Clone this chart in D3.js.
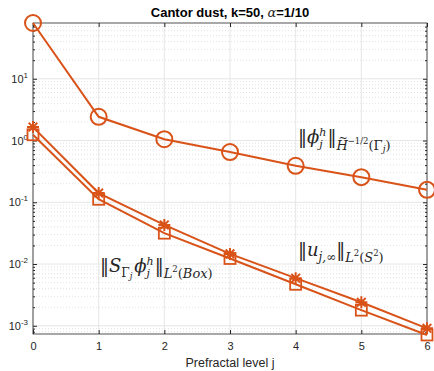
<!DOCTYPE html>
<html>
<head>
<meta charset="utf-8">
<script src="https://cdn.jsdelivr.net/npm/d3@7"></script>
<style>
  body { margin: 0; background: #fff; }
  svg { display: block; }
  text { font-family: "Liberation Sans", Arial, sans-serif; fill: #262626; }
  .math { font-family: "DejaVu Serif", "Liberation Serif", serif; fill: #262626; }
</style>
</head>
<body>
<svg width="434" height="371"></svg>
<script>
// prefractal levels
var levels = [0, 1, 2, 3, 4, 5, 6];
// ||phi_j^h|| in H^{-1/2}
var phiNorm = [80, 2.42, 1.05, 0.65, 0.39, 0.255, 0.159];
// ||u_{j,inf}|| in L2(S2)
var farField = [1.65, 0.141, 0.043, 0.0146, 0.0059, 0.0024, 0.00091];
// ||S phi|| in L2(Box)
var boxNorm = [1.24, 0.112, 0.0316, 0.0123, 0.0047, 0.00179, 0.00071];
var yTicks = [1e-3, 1e-2, 1e-1, 1e0, 1e1];
var yTickExp = ["-3", "-2", "-1", "0", "1"];

var svg = d3.select("svg"),
    margin = {top: 23, right: 7, bottom: 37, left: 33},
    width = 434 - margin.left - margin.right,
    height = 371 - margin.top - margin.bottom;

var col = "#D95319";

var x = d3.scaleLinear().domain([0, 6]).range([margin.left, margin.left + width]);
var y = d3.scaleLog().domain([7.36e-4, 80]).range([margin.top + height, margin.top]);

var g = svg.append("g");

// minor grid (dotted)
var minors = [];
for (var k = -4; k <= 1; k++) {
  for (var m = 2; m <= 9; m++) {
    var v = m * Math.pow(10, k);
    if (v > y.domain()[0] && v < y.domain()[1]) minors.push(v);
  }
}
g.selectAll(".minor").data(minors).enter().append("line")
  .attr("x1", x(0)).attr("x2", x(6))
  .attr("y1", function(d) { return y(d); }).attr("y2", function(d) { return y(d); })
  .style("stroke", "#e3e3e3").style("stroke-width", 1).style("stroke-dasharray", "1,2");

// major grid
g.selectAll(".gx").data(levels).enter().append("line")
  .attr("x1", function(d) { return x(d); }).attr("x2", function(d) { return x(d); })
  .attr("y1", y.range()[1]).attr("y2", y.range()[0])
  .style("stroke", "#e6e6e6").style("stroke-width", 1);
g.selectAll(".gy").data(yTicks).enter().append("line")
  .attr("x1", x(0)).attr("x2", x(6))
  .attr("y1", function(d) { return y(d); }).attr("y2", function(d) { return y(d); })
  .style("stroke", "#e6e6e6").style("stroke-width", 1);

// axes box
var axCol = "#262626";
var xAxis = d3.axisBottom(x).tickValues(levels).tickSize(-4).tickPadding(8).tickFormat(d3.format("d"));
var xa = svg.append("g").attr("transform", "translate(0," + y.range()[0] + ")").call(xAxis);
var xt = svg.append("g").attr("transform", "translate(0," + y.range()[1] + ")")
  .call(d3.axisTop(x).tickValues(levels).tickSize(-4).tickFormat(""));
var ya = svg.append("g").attr("transform", "translate(" + x(0) + ",0)")
  .call(d3.axisLeft(y).tickValues(yTicks).tickSize(-4).tickFormat(""));
var yr = svg.append("g").attr("transform", "translate(" + x(6) + ",0)")
  .call(d3.axisRight(y).tickValues(yTicks).tickSize(-4).tickFormat(""));
var yam = svg.append("g").attr("transform", "translate(" + x(0) + ",0)")
  .call(d3.axisLeft(y).tickValues(minors).tickSize(-2).tickFormat(""));
var yrm = svg.append("g").attr("transform", "translate(" + x(6) + ",0)")
  .call(d3.axisRight(y).tickValues(minors).tickSize(-2).tickFormat(""));
svg.selectAll(".domain").style("stroke", axCol).attr("d", null);
svg.selectAll(".tick line").style("stroke", axCol);
xa.selectAll("text").style("font-size", "11px").style("fill", axCol)
  .attr("font-family", "Liberation Sans, Arial, sans-serif");

svg.append("rect")
  .attr("x", x(0)).attr("y", y.range()[1])
  .attr("width", width).attr("height", height)
  .style("fill", "none").style("stroke", axCol).style("stroke-width", 0.8);

// y tick labels 10^k
var ylab = svg.selectAll(".ylab").data(yTicks).enter().append("text")
  .attr("x", x(0) - 5)
  .attr("y", function(d) { return y(d) + 4; })
  .attr("text-anchor", "end")
  .style("font-size", "11px");
ylab.append("tspan").text("10");
ylab.append("tspan").attr("dy", -5).style("font-size", "8px")
  .text(function(d, i) { return yTickExp[i]; });

// lines + markers
var line = d3.line().x(function(d, i) { return x(levels[i]); }).y(function(d) { return y(d); });

[phiNorm, farField, boxNorm].forEach(function(s) {
  svg.append("path").attr("d", line(s))
    .style("fill", "none").style("stroke", col).style("stroke-width", 2);
});

svg.selectAll(".circ").data(phiNorm).enter().append("circle")
  .attr("cx", function(d, i) { return x(levels[i]); })
  .attr("cy", function(d) { return y(d); })
  .attr("r", 8)
  .style("fill", "none").style("stroke", col).style("stroke-width", 2);

svg.selectAll(".sq").data(boxNorm).enter().append("rect")
  .attr("x", function(d, i) { return x(levels[i]) - 5.5; })
  .attr("y", function(d) { return y(d) - 5.5; })
  .attr("width", 11).attr("height", 11)
  .style("fill", "none").style("stroke", col).style("stroke-width", 1.8);

var star = "M-6,0L6,0M0,-6L0,6M-4.3,-4.3L4.3,4.3M-4.3,4.3L4.3,-4.3";
svg.selectAll(".star").data(farField).enter().append("path")
  .attr("transform", function(d, i) { return "translate(" + x(levels[i]) + "," + y(d) + ")"; })
  .attr("d", star)
  .style("fill", "none").style("stroke", col).style("stroke-width", 2);

// title and x label
svg.append("text")
  .attr("x", x(3)).attr("y", 17)
  .attr("text-anchor", "middle")
  .style("font-size", "13px").style("font-weight", "bold").style("fill", "#000")
  .html('Cantor dust, k=50, <tspan class="math" style="font-style:italic;font-weight:normal">α</tspan>=1/10');

svg.append("text")
  .attr("x", x(3)).attr("y", 367)
  .attr("text-anchor", "middle")
  .style("font-size", "12.5px")
  .text("Prefractal level j");

// math labels built piece by piece; h/j stacked index drawn as one text
function mathLabel(x0, y0, parts) {
  var lg = svg.append("g").attr("class", "math");
  var cx = x0;
  parts.forEach(function(p) {
    var t = lg.append("text")
      .attr("class", "math")
      .attr("x", cx).attr("y", y0 + (p.dy || 0))
      .style("font-size", p.s + "px")
      .style("font-style", p.i ? "italic" : "normal");
    var w;
    if (p.sup) {
      var a = t.append("tspan").attr("x", cx).attr("dy", -7).text(p.sup);
      var b = t.append("tspan").attr("x", cx).attr("dy", 12).text(p.t);
      w = Math.max(a.node().getComputedTextLength(), b.node().getComputedTextLength()) + 1;
    } else {
      t.text(p.t);
      w = t.node().getComputedTextLength();
    }
    if (p.tilde) {
      lg.append("text").attr("class", "math")
        .attr("x", cx + w / 2 + 1).attr("y", y0 + (p.dy || 0) - 8)
        .attr("text-anchor", "middle")
        .style("font-size", "11px")
        .text("~");
    }
    cx = cx + w + (p.gap || 0);
  });
}

mathLabel(298, 143, [
  {t: "\u2016", s: 18},
  {t: "\u03d5", s: 18, i: true},
  {t: "j", sup: "h", s: 11, i: true},
  {t: "\u2016", s: 18},
  {t: "H", s: 13, i: true, dy: 7, tilde: true},
  {t: "\u22121/2", s: 8.5, i: false, dy: 1},
  {t: "(\u0393", s: 13, dy: 7},
  {t: "j", s: 9, i: true, dy: 9},
  {t: ")", s: 13, dy: 7}
]);

mathLabel(298, 256, [
  {t: "\u2016", s: 18},
  {t: "u", s: 18, i: true},
  {t: "j,\u221e", s: 12, i: true, dy: 5},
  {t: "\u2016", s: 18},
  {t: "L", s: 13, i: true, dy: 6},
  {t: "2", s: 8.5, dy: 0},
  {t: "(", s: 13, dy: 6},
  {t: "S", s: 13, i: true, dy: 6},
  {t: "2", s: 8.5, dy: 0},
  {t: ")", s: 13, dy: 6}
]);

mathLabel(100, 272, [
  {t: "\u2016", s: 18},
  {t: "S", s: 18, i: true},
  {t: "\u0393", s: 12, dy: 5},
  {t: "j", s: 8.5, i: true, dy: 7, gap: 2},
  {t: "\u03d5", s: 18, i: true},
  {t: "j", sup: "h", s: 11, i: true},
  {t: "\u2016", s: 18},
  {t: "L", s: 13, i: true, dy: 6},
  {t: "2", s: 8.5, dy: 0},
  {t: "(", s: 13, dy: 6},
  {t: "Box", s: 13, i: true, dy: 6},
  {t: ")", s: 13, dy: 6}
]);
</script>
</body>
</html>
